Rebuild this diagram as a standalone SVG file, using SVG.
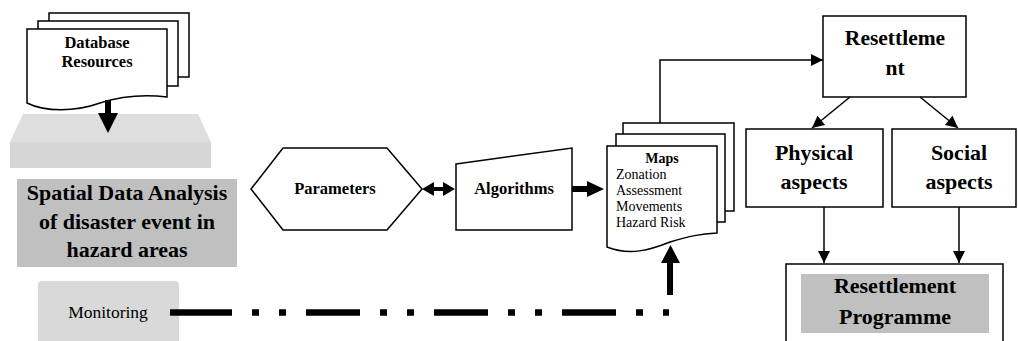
<svg xmlns="http://www.w3.org/2000/svg" width="1018" height="341" viewBox="0 0 1018 341">
<style>
.s{fill:#fff;stroke:#000;stroke-width:1.5}
.b{font-weight:bold;text-anchor:middle;fill:#000}
.r{fill:#000}
.ln{fill:none;stroke:#000;stroke-width:1.5}
</style>
<defs>
<marker id="ah2" viewBox="0 0 10 10" refX="10" refY="5" markerWidth="14" markerHeight="12" markerUnits="userSpaceOnUse" orient="auto"><path d="M0,0 L10,5 L0,10 z" fill="#000"/></marker>
</defs>
<rect width="1018" height="341" fill="#fff"/>
<g font-family="'Liberation Serif', 'Times New Roman', serif">

<g id="database">
<rect class="s" x="49" y="13" width="140" height="64"/>
<rect class="s" x="38" y="21" width="140" height="65"/>
<path class="s" d="M27,29 H167 V97 C150,95 125,95 100,103 C75,112 45,112 27,103 Z"/>
<text class="b" x="97" y="48" font-size="16.5">Database</text>
<text class="b" x="97" y="67" font-size="16.5">Resources</text>
</g>

<g id="slab">
<polygon points="23,114 198,114 211,142 10,142" fill="#dedede"/>
<rect x="10" y="142" width="201" height="26" fill="#d6d6d6"/>
</g>

<g id="spatial">
<rect x="17" y="179" width="220" height="88" fill="#c0c0c0"/>
<text class="b" x="127" y="200" font-size="22">Spatial Data Analysis</text>
<text class="b" x="127" y="229" font-size="22">of disaster event in</text>
<text class="b" x="127" y="257" font-size="22">hazard areas</text>
</g>

<g id="monitoring">
<rect x="38" y="281" width="141" height="70" rx="4" fill="#d9d9d9"/>
<text class="r" x="108" y="318" font-size="17.5" text-anchor="middle">Monitoring</text>
</g>

<g id="parameters">
<polygon class="s" points="251,189 283,148 387,148 422,189 387,230 283,230"/>
<text class="b" x="335" y="194" font-size="16.5">Parameters</text>
</g>

<g id="algorithms">
<polygon class="s" points="456,164 572,148 572,230 456,230"/>
<text class="b" x="514" y="194" font-size="16.5">Algorithms</text>
</g>

<g id="maps">
<rect class="s" x="623" y="123" width="111" height="88"/>
<rect class="s" x="616" y="134" width="109" height="88"/>
<path class="s" d="M607,146 H717 V233 C700,234 690,236 670,242 C650,250 630,256 607,247 Z"/>
<text class="b" x="662" y="163" font-size="14">Maps</text>
<text class="r" x="616" y="179" font-size="14">Zonation</text>
<text class="r" x="616" y="195" font-size="14">Assessment</text>
<text class="r" x="616" y="211" font-size="14">Movements</text>
<text class="r" x="616" y="227" font-size="14">Hazard Risk</text>
</g>

<g id="resettlement">
<rect class="s" x="823" y="16" width="143" height="81"/>
<text class="b" x="895" y="45" font-size="21.5">Resettleme</text>
<text class="b" x="895" y="75" font-size="21.5">nt</text>
</g>

<g id="physical">
<rect class="s" x="746" y="129" width="137" height="78"/>
<text class="b" x="814" y="160" font-size="22">Physical</text>
<text class="b" x="814" y="189" font-size="22">aspects</text>
</g>

<g id="social">
<rect class="s" x="892" y="129" width="124" height="78"/>
<text class="b" x="959" y="160" font-size="22">Social</text>
<text class="b" x="959" y="189" font-size="22">aspects</text>
</g>

<g id="programme">
<rect class="s" x="786" y="264" width="217" height="90"/>
<rect x="801" y="274" width="188" height="59" fill="#c0c0c0"/>
<text class="b" x="895" y="293" font-size="22">Resettlement</text>
<text class="b" x="895" y="324" font-size="22">Programme</text>
</g>
</g>

<g id="connectors">
<path d="M105,100 H111 V113 H118 L108,133 L98,113 H105 Z" fill="#000"/>
<path d="M422,189 L434,182 V187 H443 V182 L455,189 L443,196 V191 H434 V196 Z" fill="#000"/>
<path d="M572,186 H587 V181 L604,189 L587,197 V192 H572 Z" fill="#000"/>
<path class="ln" d="M660,123 V60 H823" marker-end="url(#ah2)"/>
<line class="ln" x1="850" y1="97" x2="812" y2="128" marker-end="url(#ah2)"/>
<line class="ln" x1="920" y1="97" x2="958" y2="128" marker-end="url(#ah2)"/>
<line class="ln" x1="824" y1="207" x2="824" y2="263" marker-end="url(#ah2)"/>
<line class="ln" x1="959" y1="207" x2="959" y2="263" marker-end="url(#ah2)"/>
<line x1="170" y1="312.5" x2="232" y2="312.5" stroke="#000" stroke-width="6.5"/>
<line x1="252" y1="312.5" x2="669" y2="312.5" stroke="#000" stroke-width="6.5" stroke-dasharray="7 20 7 20 54 20"/>
<path d="M667,295 V263 H661 L670.5,245 L680,263 H673 V295 Z" fill="#000"/>
</g>
</svg>
